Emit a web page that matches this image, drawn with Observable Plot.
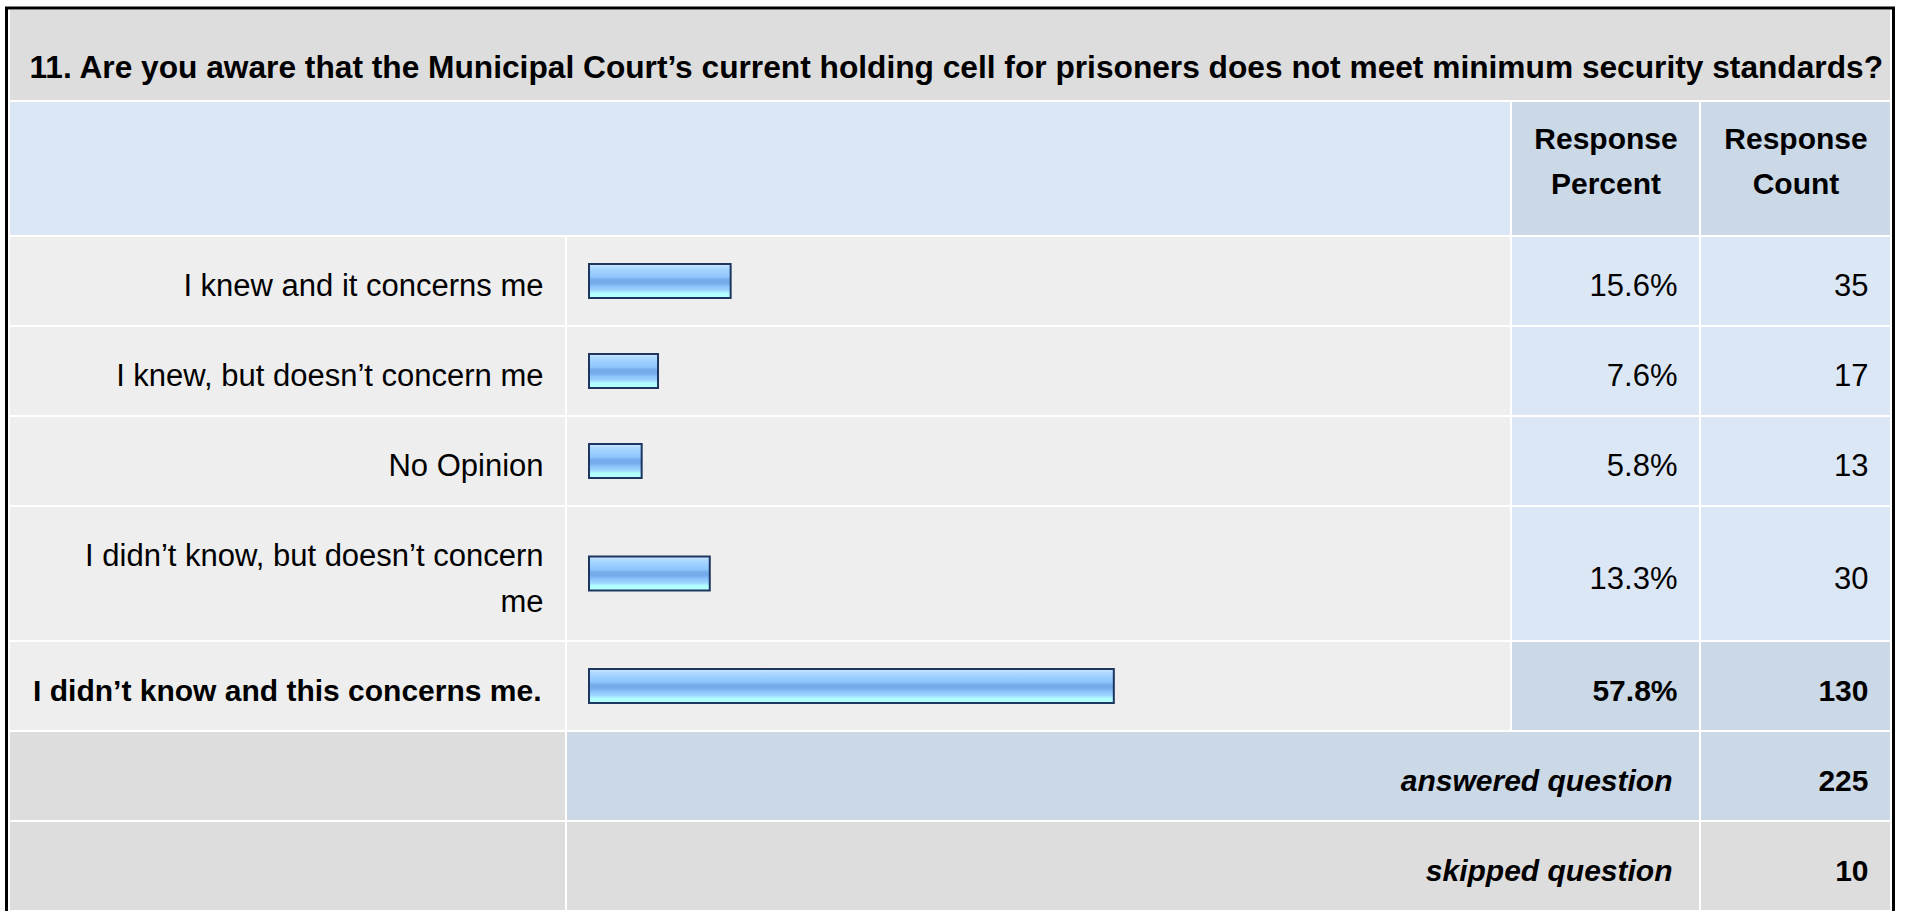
<!DOCTYPE html>
<html>
<head>
<meta charset="utf-8">
<script src="https://cdn.jsdelivr.net/npm/d3@7"></script>
<script src="https://cdn.jsdelivr.net/npm/@observablehq/plot@0.6"></script>
<style>
  html, body { margin: 0; padding: 0; background: #ffffff; overflow: hidden; }
  #chart svg { display: block; }
</style>
</head>
<body>
<div id="chart"></div>
<script>
// ---------------- data ----------------
const question = "11. Are you aware that the Municipal Court’s current holding cell for prisoners does not meet minimum security standards?";
const answers = [
  "I knew and it concerns me",
  "I knew, but doesn’t concern me",
  "No Opinion",
  "I didn’t know, but doesn’t concern me",
  "I didn’t know and this concerns me."
];
const responsePercent = [15.6, 7.6, 5.8, 13.3, 57.8];
const responseCount = [35, 17, 13, 30, 130];
const columnHeaders = ["Response\nPercent", "Response\nCount"];
const summaryLabels = ["answered question", "skipped question"];
const summaryCounts = [225, 10];

// ---------------- layout (pixels) ----------------
const W = 1907, H = 911;
const FONT = "'Liberation Sans', Arial, Helvetica, sans-serif";
const col = { label: [10, 565], bar: [567, 1510], pct: [1512, 1699], count: [1701, 1890] };
const rowHeights = [90, 133, 88, 88, 88, 133, 88, 88, 88]; // title, header, 5 answers, answered, skipped
const GAP = 2, TOP = 10;
let acc = TOP;
const bands = rowHeights.map(h => { const b = [acc, acc + h]; acc += h + GAP; return b; });
const mid = b => (b[0] + b[1]) / 2;

// x scale: percent -> pixels for bars; layout pixels are converted into the same units
const xRange = [589, 1497];
const toX = d3.scaleLinear().domain(xRange).range([0, 100]);

const maxCount = d3.max(responseCount);
const rows = answers.map((a, i) => ({
  answer: a,
  pct: responsePercent[i],
  count: responseCount[i],
  top: responseCount[i] === maxCount,
  y: mid(bands[2 + i])
}));
const summary = summaryLabels.map((s, i) => ({ label: s, count: summaryCounts[i], y: mid(bands[7 + i]) }));

// background cells
const GRAY = "#dddddd", ROW = "#eeeeee", BLUE = "#dce7f5", BLUE2 = "#cbd8e6";
const cells = [];
const addCell = (c, band, fill) => cells.push({ x1: toX(c[0]), x2: toX(c[1]), y1: band[0], y2: band[1], fill });
addCell([col.label[0], col.count[1]], bands[0], GRAY);
addCell([col.label[0], col.bar[1]], bands[1], BLUE);
addCell(col.pct, bands[1], BLUE2);
addCell(col.count, bands[1], BLUE2);
rows.forEach((r, i) => {
  const b = bands[2 + i];
  addCell(col.label, b, ROW);
  addCell(col.bar, b, ROW);
  addCell(col.pct, b, r.top ? BLUE2 : BLUE);
  addCell(col.count, b, r.top ? BLUE2 : BLUE);
});
addCell(col.label, bands[7], GRAY);
addCell([col.bar[0], col.pct[1]], bands[7], BLUE2);
addCell(col.count, bands[7], BLUE2);
addCell(col.label, bands[8], GRAY);
addCell([col.bar[0], col.pct[1]], bands[8], GRAY);
addCell(col.count, bands[8], GRAY);

// bar gradient
const gradientStops = [
  [0, "#d2e8ff"], [0.1, "#b0daff"], [0.22, "#9dd0ff"], [0.38, "#8fc5fb"],
  [0.46, "#77acec"], [0.56, "#75aaeb"], [0.66, "#8cc3fa"], [0.78, "#a0d6ff"],
  [0.86, "#b2fdff"], [1, "#b4ffff"]
];
function gradientDefs() {
  const defs = d3.create("svg:defs");
  const g = defs.append("linearGradient").attr("id", "barGradient")
    .attr("x1", 0).attr("y1", 0).attr("x2", 0).attr("y2", 1);
  gradientStops.forEach(([o, c]) => g.append("stop").attr("offset", o).attr("stop-color", c));
  return defs.node();
}

const fmtPct = d3.format(".1f");
const BODY = 31, BODYB = 30;

const chart = Plot.plot({
  width: W,
  height: H,
  margin: 0,
  x: { domain: [0, 100], range: xRange, axis: null },
  y: { type: "identity", axis: null },
  style: { background: "#ffffff", fontFamily: FONT },
  marks: [
    gradientDefs,
    // outer frame
    Plot.rect([0], { x1: toX(6.5), x2: toX(1893.5), y1: 8, y2: 930, fill: "none", stroke: "#000000", strokeWidth: 3 }),
    // table cells
    Plot.rect(cells, { x1: "x1", x2: "x2", y1: "y1", y2: "y2", fill: d => d.fill }),
    // title
    Plot.text([question], { x: toX(29), y: mid(bands[0]) + 7, text: d => d, textAnchor: "start", lineAnchor: "middle", lineHeight: 1.5, fontSize: 31.7, fontWeight: "bold", fill: "#000" }),
    // column headers
    Plot.text(columnHeaders, { x: (d, i) => toX(i === 0 ? mid(col.pct) : mid(col.count)), y: mid(bands[1]) - 12, text: d => d, textAnchor: "middle", lineAnchor: "middle", lineHeight: 1.5, fontSize: 30, fontWeight: "bold", fill: "#000" }),
    // bars
    Plot.rect(rows, { x1: 0, x2: "pct", y1: d => d.y - 17, y2: d => d.y + 17, fill: "url(#barGradient)", stroke: "#1c3660", strokeWidth: 2 }),
    // answer labels
    Plot.text(rows.filter(d => !d.top), { x: toX(543), y: "y", text: "answer", textAnchor: "end", lineAnchor: "middle", lineHeight: 1.5, lineWidth: 16.6, fontSize: BODY, fill: "#000" }),
    Plot.text(rows.filter(d => d.top), { x: toX(541), y: "y", text: "answer", textAnchor: "end", lineAnchor: "middle", lineHeight: 1.5, fontSize: BODYB, fontWeight: "bold", fill: "#000" }),
    // percents and counts
    Plot.text(rows.filter(d => !d.top), { x: toX(1677), y: "y", text: d => fmtPct(d.pct) + "%", textAnchor: "end", lineAnchor: "middle", lineHeight: 1.5, fontSize: BODY, fill: "#000" }),
    Plot.text(rows.filter(d => !d.top), { x: toX(1868), y: "y", text: d => String(d.count), textAnchor: "end", lineAnchor: "middle", lineHeight: 1.5, fontSize: BODY, fill: "#000" }),
    Plot.text(rows.filter(d => d.top), { x: toX(1677), y: "y", text: d => fmtPct(d.pct) + "%", textAnchor: "end", lineAnchor: "middle", lineHeight: 1.5, fontSize: BODYB, fontWeight: "bold", fill: "#000" }),
    Plot.text(rows.filter(d => d.top), { x: toX(1868), y: "y", text: d => String(d.count), textAnchor: "end", lineAnchor: "middle", lineHeight: 1.5, fontSize: BODYB, fontWeight: "bold", fill: "#000" }),
    // summary rows
    Plot.text(summary, { x: toX(1672), y: "y", text: "label", textAnchor: "end", lineAnchor: "middle", lineHeight: 1.5, fontSize: BODYB, fontWeight: "bold", fontStyle: "italic", fill: "#000" }),
    Plot.text(summary, { x: toX(1868), y: "y", text: d => String(d.count), textAnchor: "end", lineAnchor: "middle", lineHeight: 1.5, fontSize: BODYB, fontWeight: "bold", fill: "#000" })
  ]
});
document.getElementById("chart").appendChild(chart);
</script>
</body>
</html>
